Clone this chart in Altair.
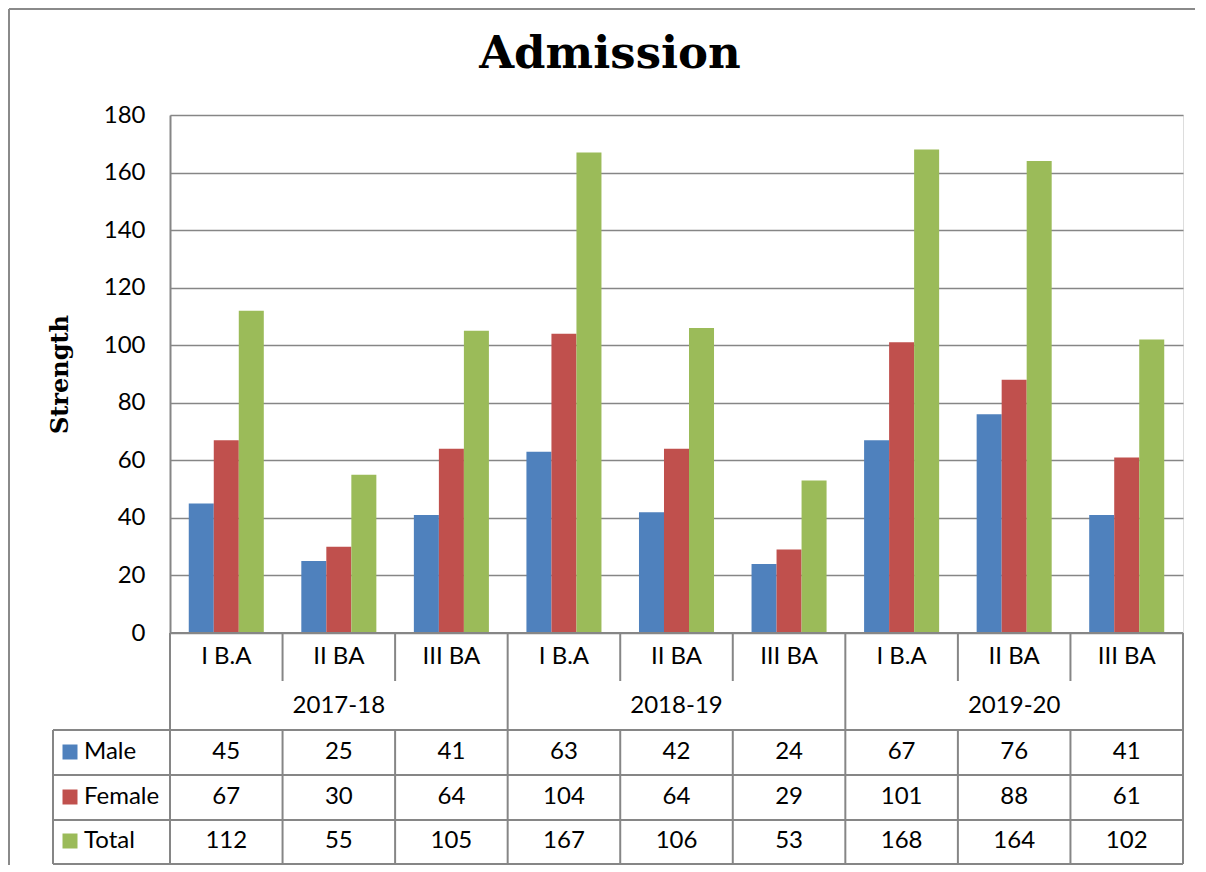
import altair as alt
import pandas as pd

# ---------------- data ----------------
title_text = "Admission"
years = ["2017-18", "2018-19", "2019-20"]
classes = ["I B.A", "II BA", "III BA"]
series = ["Male", "Female", "Total"]
male = [45, 25, 41, 63, 42, 24, 67, 76, 41]
female = [67, 30, 64, 104, 64, 29, 101, 88, 61]
total = [112, 55, 105, 167, 106, 53, 168, 164, 102]
colors = ["#4F81BD", "#C0504D", "#9BBB59"]
y_ticks = list(range(0, 181, 20))

# ---------------- layout (pixels, relative to plot area) ----------------
W, H = 1013, 518
GRID = "#868686"
FONT = "Lato"
FS = 24
ROW_CAT = 542
ROW_YEAR = 591
LINE_TABLE_TOP = 615
ROW_Y = {"Male": 637, "Female": 682, "Total": 726}
ROW_LINES = [660, 705, 749]
CAT_ROW_BOTTOM = 566
LEFT_COL = -117

keys = [f"{y}|{c}" for y in years for c in classes]
vals = {"Male": male, "Female": female, "Total": total}
rows = []
for i, k in enumerate(keys):
    for s in series:
        rows.append({"key": k, "year": years[i // 3], "cls": classes[i % 3],
                     "ci": i % 3, "series": s, "value": vals[s][i]})
df = pd.DataFrame(rows)
keydf = pd.DataFrame({"key": keys, "cls": [classes[i % 3] for i in range(len(keys))],
                      "ci": [i % 3 for i in range(len(keys))]})
yeardf = pd.DataFrame({"key": [f"{y}|{classes[1]}" for y in years], "year": years})
one = pd.DataFrame({"k": [0]})

PAD_IN, PAD_OUT = 1 / 3, 1 / 6
xscale = alt.Scale(paddingInner=PAD_IN, paddingOuter=PAD_OUT)
HALF_GAP = (W / len(keys)) * PAD_IN / 2   # half of the gap between bar groups


def X(bp=None):
    if bp is None:
        return alt.X("key:N", sort=keys, scale=xscale, axis=None)
    return alt.X("key:N", sort=keys, scale=xscale, axis=None, bandPosition=bp)


color_enc = alt.Color("series:N", sort=series,
                      scale=alt.Scale(domain=series, range=colors), legend=None)

bars = alt.Chart(df).mark_bar().encode(
    x=X(),
    xOffset=alt.XOffset("series:N", sort=series),
    y=alt.Y("value:Q", scale=alt.Scale(domain=[0, 180], nice=False),
            axis=alt.Axis(values=y_ticks, title="Strength",
                          titleFont="DejaVu Serif", titleFontSize=24,
                          titleFontWeight="bold", titleColor="black",
                          titleAngle=270, titleX=-110, titleY=H / 2,
                          titleBaseline="middle", titleAlign="center",
                          labelFont=FONT, labelFontSize=FS, labelColor="black",
                          labelPadding=25, ticks=False,
                          domainColor=GRID, domainWidth=2,
                          grid=True, gridColor=GRID, gridWidth=1.6)),
    color=color_enc,
)

layers = [bars]

# outer frame (top and left edges; the rest falls outside the picture)
FRAME = "#8a8a8a"
layers.append(alt.Chart(one).mark_rule(color=FRAME, strokeWidth=2).encode(
    x=alt.value(-161), x2=alt.value(W + 200), y=alt.value(-106)))
layers.append(alt.Chart(one).mark_rule(color=FRAME, strokeWidth=2).encode(
    x=alt.value(-161), y=alt.value(-106), y2=alt.value(H + 400)))

# title
layers.append(alt.Chart(pd.DataFrame({"t": [title_text]})).mark_text(
    font="DejaVu Serif", fontSize=45, fontWeight="bold", color="black",
    align="center", baseline="alphabetic").encode(
    x=alt.value(440), y=alt.value(-47), text="t:N"))


def hline(y, x1, x2):
    return alt.Chart(one).mark_rule(color=GRID, strokeWidth=2).encode(
        x=alt.value(x1), x2=alt.value(x2), y=alt.value(y))


layers.append(hline(H, 0, W))
layers.append(hline(LINE_TABLE_TOP, LEFT_COL, W))
for yl in ROW_LINES:
    layers.append(hline(yl, LEFT_COL, W))

# vertical table lines (at category cell boundaries)
inner = keydf[keydf.ci != 0]
starts = keydf[keydf.ci == 0]
for (y1, y2) in [(H, CAT_ROW_BOTTOM), (LINE_TABLE_TOP, ROW_LINES[-1])]:
    layers.append(alt.Chart(inner).mark_rule(color=GRID, strokeWidth=2, xOffset=-HALF_GAP).encode(
        x=X(0), y=alt.value(y1), y2=alt.value(y2)))
layers.append(alt.Chart(starts).mark_rule(color=GRID, strokeWidth=2, xOffset=-HALF_GAP).encode(
    x=X(0), y=alt.value(H), y2=alt.value(ROW_LINES[-1])))
layers.append(alt.Chart(keydf.tail(1)).mark_rule(color=GRID, strokeWidth=2, xOffset=HALF_GAP).encode(
    x=X(1), y=alt.value(H), y2=alt.value(ROW_LINES[-1])))
layers.append(alt.Chart(one).mark_rule(color=GRID, strokeWidth=2).encode(
    x=alt.value(LEFT_COL), y=alt.value(LINE_TABLE_TOP), y2=alt.value(ROW_LINES[-1])))

# category & year labels
layers.append(alt.Chart(keydf).mark_text(font=FONT, fontSize=FS, color="black", baseline="middle").encode(
    x=X(), y=alt.value(ROW_CAT), text="cls:N"))
layers.append(alt.Chart(yeardf).mark_text(font=FONT, fontSize=FS, color="black", baseline="middle").encode(
    x=X(), y=alt.value(ROW_YEAR), text="year:N"))

# value rows + legend keys
for s in series:
    sub = df[df.series == s]
    layers.append(alt.Chart(sub).mark_text(font=FONT, fontSize=FS, color="black", baseline="middle").encode(
        x=X(), y=alt.value(ROW_Y[s]), text="value:Q"))
    lab = pd.DataFrame({"series": [s]})
    layers.append(alt.Chart(lab).mark_square(size=225, opacity=1).encode(
        x=alt.value(-100), y=alt.value(ROW_Y[s]), color=color_enc))
    layers.append(alt.Chart(lab).mark_text(font=FONT, fontSize=FS, color="black", align="left",
                                           baseline="middle").encode(
        x=alt.value(-86), y=alt.value(ROW_Y[s]), text="series:N"))

chart = alt.layer(*layers).properties(
    width=W, height=H,
    autosize=alt.AutoSizeParams(type="none"),
    padding={"left": 162, "top": 107, "right": 12, "bottom": 232},
).configure_view(stroke=None).configure(background="white")

chart.save("out.html", embed_options={"renderer": "svg", "actions": False})
